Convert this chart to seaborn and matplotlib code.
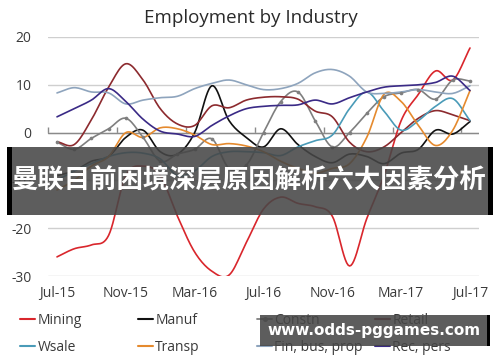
import numpy as np
import pandas as pd
import matplotlib
matplotlib.use("Agg")
import matplotlib.pyplot as plt
import seaborn as sns
from matplotlib.lines import Line2D
from matplotlib.patches import Rectangle

# ---------------- data ----------------
months = ["Jul-15", "Aug-15", "Sep-15", "Oct-15", "Nov-15", "Dec-15", "Jan-16", "Feb-16",
          "Mar-16", "Apr-16", "May-16", "Jun-16", "Jul-16", "Aug-16", "Sep-16", "Oct-16",
          "Nov-16", "Dec-16", "Jan-17", "Feb-17", "Mar-17", "Apr-17", "May-17", "Jun-17", "Jul-17"]
tick_labels = ["Jul-15", "Nov-15", "Mar-16", "Jul-16", "Nov-16", "Mar-17", "Jul-17"]

mining = [-26, -24.3, -23.5, -21.5, -9, -7, -9, -17.5, -25, -29, -29.8, -23, -16,
          -13.5, -14.8, -15.5, -17.5, -27.9, -18, -9, 2.5, 8, 12.9, 11, 17.7]
manuf = [-9, -8, -6, -5, -1, 0.5, -4, -4.5, 0, 9.8, 2.5, -1, -3,
         0.8, -2.5, -5, -6.3, -4.5, -5, -6.5, -4.3, -3.5, 0.5, -0.3, 2.3]
constn = [-2, -3.5, -1.2, 0.8, 3.0, -1, -6, -4.5, -3.5, -1.3, -7.5, -6.8, 0,
          6.5, 8.5, 2.5, -3, 0, 4, 7.5, 8.3, 9.0, 7.0, 11, 10.8]
retail = [-1.9, -2.5, 2.7, 9.5, 14.4, 11, 5, 1.8, 1.5, 5.6, 5.2, 6.8, 7.4,
          7.5, 7, 4.5, 3.3, -2, -4, -3, 0, 3, 4.6, 3.7, 2.5]
wsale = [-10, -8, -6.5, -5, -4.2, -4.3, -5.5, -9, -8, -5, -4, -4, -4.2,
         -4.8, -3, -1.7, -0.5, 5, 8.5, 4.5, 0.5, 2.5, 5.5, 7.1, 2.5]
transp = [-12, -10, -7, -5, 0, -1, 1, 0.8, -0.5, -2.5, -2.3, -2.8, -4,
          -6, -7.5, -8.5, -7.5, -6.5, -1, 8, 6.5, 1.5, -2.7, 0.5, 8.8]
fin = [8.3, 9.4, 8.5, 8.3, 6.0, 6.8, 7.3, 7.6, 9.2, 10.3, 11.0, 10.0, 9.0,
       9.2, 10.3, 12.5, 13.2, 11.8, 8.5, 8.2, 8.5, 9.0, 8.5, 8.2, 9.8]
rec = [3.3, 5.0, 6.8, 9.2, 6.5, 2.8, 0.3, -0.3, -0.8, 1.5, 3.5, 5.0, 5.5,
       5.7, 5.8, 6.8, 6.0, 7.3, 8.5, 9.5, 9.8, 10.0, 10.5, 11.8, 8.8]

series_names = ["Mining", "Manuf", "Constn", "Retail", "Wsale", "Transp", "Fin, bus, prop", "Rec, pers"]
series_values = [mining, manuf, constn, retail, wsale, transp, fin, rec]
colors = ["#d9262c", "#111111", "#7f7f7f", "#8c2a2e", "#4a9bb8", "#e58a2e", "#8ea4bd", "#3a2a86"]
palette = dict(zip(series_names, colors))

title = "Employment by Industry"
banner_text = "曼联目前困境深层原因解析六大因素分析"
watermark = "www.odds-pggames.com"


def smooth(y, n=12):
    """Catmull-Rom smoothing (like a smoothed-line chart) for display."""
    y = np.asarray(y, float)
    p = np.concatenate([[2 * y[0] - y[1]], y, [2 * y[-1] - y[-2]]])
    xs, ys = [], []
    t = np.linspace(0, 1, n, endpoint=False)
    for i in range(len(y) - 1):
        p0, p1, p2, p3 = p[i], p[i + 1], p[i + 2], p[i + 3]
        ys.append(0.5 * (2 * p1 + (-p0 + p2) * t + (2 * p0 - 5 * p1 + 4 * p2 - p3) * t ** 2
                         + (-p0 + 3 * p1 - 3 * p2 + p3) * t ** 3))
        xs.append(i + t)
    xs.append([len(y) - 1])
    ys.append([y[-1]])
    return np.concatenate(xs), np.concatenate(ys)


rows = []
for name, vals in zip(series_names, series_values):
    xs, ys = smooth(vals)
    rows.append(pd.DataFrame({"x": xs, "value": ys, "series": name}))
df = pd.concat(rows, ignore_index=True)

# ---------------- style ----------------
sns.set_style("white")
plt.rcParams["font.family"] = ["Open Sans", "DejaVu Sans"]
text_col = "#3a3a3a"

fig = plt.figure(figsize=(5.0, 3.62), dpi=100)
W, H = 500.0, 362.0
x_left, x_right, y_top, y_bot = 48.4, 478.6, 37.0, 276.0
ax = fig.add_axes([x_left / W, 1 - y_bot / H, (x_right - x_left) / W, (y_bot - y_top) / H])

sns.lineplot(data=df, x="x", y="value", hue="series", palette=palette, hue_order=series_names,
             sort=False, estimator=None, linewidth=1.2, legend=False, ax=ax, zorder=3)

# markers for Constn at data points
cdf = pd.DataFrame({"x": np.arange(len(constn)), "value": constn})
sns.scatterplot(data=cdf, x="x", y="value", color=palette["Constn"], s=7, linewidth=0,
                ax=ax, zorder=3.1, legend=False)

ax.set_xlim(-0.5, len(months) - 0.5)
ax.set_ylim(-30, 20)
ax.set_yticks([-30, -20, -10, 0, 10, 20])
ax.set_yticklabels(["-30", "-20", "-10", "0", "10", "20"])
ax.set_xticks(np.arange(0, len(months), 4))
ax.set_xticklabels(tick_labels)
ax.set_xlabel("")
ax.set_ylabel("")
ax.yaxis.grid(True, color="#cfcfcf", linewidth=1.0)
ax.xaxis.grid(False)
ax.set_axisbelow(True)
for s in ax.spines.values():
    s.set_visible(False)
ax.tick_params(axis="both", length=0, labelsize=10, colors=text_col)
ax.tick_params(axis="x", pad=7.5)
ax.tick_params(axis="y", pad=12)
ax.axhline(0, color="#8a8a8a", linewidth=1.0, zorder=2)

# category tick marks on the zero axis
sec = ax.secondary_xaxis(0.6)
sec.set_xticks(np.arange(-0.5, len(months), 4))
sec.tick_params(direction="out", length=4, color="#8a8a8a", width=1, labeltop=False, labelbottom=False)
for s in sec.spines.values():
    s.set_visible(False)

fig.text(251 / W, 1 - 18 / H, title, ha="center", va="center", fontsize=13.5, color="#2a2a2a")

# legend: 4 columns, 2 rows
col_x = [20, 138, 257, 375]
for c in range(4):
    names = [series_names[c], series_names[c + 4]]
    handles = []
    for nm in names:
        if nm == "Constn":
            handles.append(Line2D([], [], color=palette[nm], lw=1.3, marker="o", markersize=2.5))
        else:
            handles.append(Line2D([], [], color=palette[nm], lw=1.5))
    fig.legend(handles, names, loc="upper left", bbox_to_anchor=(col_x[c] / W, 1 - 313 / H),
               frameon=False, fontsize=10, handlelength=1.1, handletextpad=0.15,
               borderpad=0, borderaxespad=0, labelspacing=0.85, labelcolor=text_col)

# banner overlay
fig.add_artist(Rectangle((7 / W, 1 - 215 / H), 486 / W, 68 / H, transform=fig.transFigure,
                         facecolor="#464646", alpha=0.88, edgecolor="none", zorder=10))
fig.add_artist(Rectangle((7 / W, 1 - 215 / H), 5 / W, 68 / H, transform=fig.transFigure,
                         facecolor="#000000", edgecolor="none", zorder=10.5))
fig.add_artist(Rectangle((488 / W, 1 - 215 / H), 5 / W, 68 / H, transform=fig.transFigure,
                         facecolor="#000000", edgecolor="none", zorder=10.5))
fig.text(249 / W, 1 - 181 / H, banner_text, ha="center", va="center", fontsize=19,
         fontweight="bold", color="white", family=["Noto Sans CJK SC", "DejaVu Sans"], zorder=11)

# watermark box
fig.add_artist(Rectangle((260 / W, 1 - 346 / H), 230 / W, 31 / H, transform=fig.transFigure,
                         facecolor="#464646", alpha=0.88, edgecolor="none", zorder=10))
fig.add_artist(Rectangle((487 / W, 1 - 346 / H), 3 / W, 31 / H, transform=fig.transFigure,
                         facecolor="#000000", edgecolor="none", zorder=10.5))
fig.text(374 / W, 1 - 330 / H, watermark, ha="center", va="center", fontsize=11,
         fontweight="bold", color="white", family=["DejaVu Sans"], zorder=11)

fig.savefig("out.png", dpi=100)
